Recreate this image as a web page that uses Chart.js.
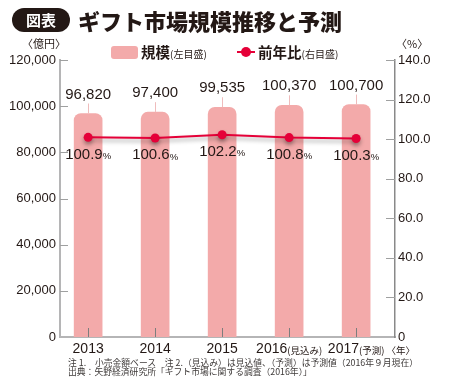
<!DOCTYPE html>
<html>
<head>
<meta charset="utf-8">
<script src="https://cdn.jsdelivr.net/npm/chart.js@4"></script>
<style>
body{margin:0;background:#fff;}
#wrap{position:relative;width:450px;height:392px;font-family:"Noto Sans CJK JP",sans-serif;color:#231815;overflow:hidden;}
canvas{position:absolute;left:0;top:0;}
.t{position:absolute;white-space:nowrap;}
.s{font-size:10px;}
.note{font-size:8.8px;line-height:11px;color:#3e3a39;}
</style>
</head>
<body>
<div id="wrap">
<canvas id="c" width="450" height="392"></canvas>
<div class="t" style="left:12px;top:8px;width:58px;height:24px;background:#231815;border-radius:12px;color:#fff;font-weight:bold;font-size:15px;line-height:24px;text-align:center;">図表</div>
<div class="t" style="left:78px;top:4px;font-size:22px;font-weight:900;line-height:32px;">ギフト市場規模推移と予測</div>
<div class="t" style="left:22px;top:36px;font-size:11px;line-height:14px;">〈億円〉</div>
<div class="t" style="left:396px;top:36px;font-size:11px;line-height:14px;">〈%〉</div>
<div class="t" style="left:111px;top:46px;width:27px;height:13px;background:#f3aaaa;border-radius:3px;"></div>
<div class="t" style="left:141px;top:43px;font-size:14.5px;font-weight:bold;line-height:18px;">規模<span class="s" style="font-weight:normal">(左目盛)</span></div>
<div class="t" style="left:237px;top:51px;width:18px;height:2px;background:#e50038;"></div>
<div class="t" style="left:241px;top:47px;width:10px;height:10px;border-radius:5px;background:#e50038;"></div>
<div class="t" style="left:258px;top:43px;font-size:14.5px;font-weight:bold;line-height:18px;">前年比<span class="s" style="font-weight:normal">(右目盛)</span></div>
<div class="t note" style="left:68px;top:357px;">注 1.　小売金額ベース　注 2.（見込み）は見込値、（予測）は予測値（2016年９月現在）</div>
<div class="t note" style="left:68px;top:366px;">出典：矢野経済研究所「ギフト市場に関する調査（2016年）」</div>
</div>
<script>
var years = ['2013', '2014', '2015', '2016', '2017'];
var yearNotes = ['', '', '', '(見込み)', '(予測)'];
var marketSize = [96820, 97400, 99535, 100370, 100700];
var yoyRate = [100.9, 100.6, 102.2, 100.8, 100.3];
var leftMax = 120000, leftStep = 20000;
var rightMax = 140, rightStep = 20;

var numFont = '"Liberation Sans", Arial, sans-serif';
var jpFont = '"Noto Sans CJK JP", sans-serif';

var deco = {
  id: 'deco',
  beforeDatasetDraw: function(chart, args) {
    if (args.index === 1) {
      var c = chart.ctx;
      c.save();
      c.shadowColor = 'rgba(0,0,0,0.35)';
      c.shadowBlur = 4;
      c.shadowOffsetY = 3;
    }
  },
  afterDatasetDraw: function(chart, args) {
    if (args.index === 1) chart.ctx.restore();
  },
  afterDraw: function(chart) {
    var c = chart.ctx, xs = chart.scales.x, yl = chart.scales.y, yr = chart.scales.y2, a = chart.chartArea;
    c.save();
    // tick marks inside
    c.lineWidth = 1;
    c.strokeStyle = '#9fa0a0';
    yl.ticks.forEach(function(t) {
      if (t.value === 0) return;
      var y = Math.round(yl.getPixelForValue(t.value)) + 0.5;
      c.beginPath(); c.moveTo(a.left, y); c.lineTo(a.left + 8, y); c.stroke();
    });
    yr.ticks.forEach(function(t) {
      if (t.value === 0) return;
      var y = Math.round(yr.getPixelForValue(t.value)) + 0.5;
      c.beginPath(); c.moveTo(a.right - 9, y); c.lineTo(a.right, y); c.stroke();
    });
    c.strokeStyle = '#7d7d7d';
    for (var i = 0; i < years.length; i++) {
      var px = Math.round(xs.getPixelForValue(i)) + 0.5;
      c.beginPath(); c.moveTo(px, a.bottom); c.lineTo(px, a.bottom - 9); c.stroke();
    }

    c.fillStyle = '#231815';
    c.textBaseline = 'middle';
    for (var i = 0; i < years.length; i++) {
      var px = xs.getPixelForValue(i);
      // bar value labels + leader
      var top = yl.getPixelForValue(marketSize[i]);
      c.strokeStyle = '#efbcbc';
      c.beginPath(); c.moveTo(Math.round(px) + 0.5, top - 10); c.lineTo(Math.round(px) + 0.5, top); c.stroke();
      c.font = '15px ' + numFont;
      c.textAlign = 'center';
      c.fillText(marketSize[i].toLocaleString('en-US'), px, top - 19);

      // percent labels
      var py = yr.getPixelForValue(yoyRate[i]) + 17;
      var main = yoyRate[i].toFixed(1);
      c.font = '15px ' + numFont;
      var w1 = c.measureText(main).width;
      c.font = '9.5px ' + numFont;
      var w2 = c.measureText('%').width;
      var sx = px - (w1 + w2) / 2;
      c.textAlign = 'left';
      c.font = '15px ' + numFont;
      c.fillText(main, sx, py);
      c.font = '9.5px ' + numFont;
      c.fillText('%', sx + w1, py + 2);

      // x labels
      c.font = '14px ' + numFont;
      var yw = c.measureText(years[i]).width;
      c.font = '9.5px ' + jpFont;
      var nw = yearNotes[i] ? c.measureText(yearNotes[i]).width : 0;
      var lx = px - (yw + nw) / 2;
      c.font = '14px ' + numFont;
      c.fillText(years[i], lx, 349);
      if (yearNotes[i]) {
        c.font = '9.5px ' + jpFont;
        c.fillText(yearNotes[i], lx + yw, 350);
      }
      if (i === years.length - 1) {
        c.font = '9.5px ' + jpFont;
        c.fillText('〈年〉', lx + yw + nw + 2, 350);
      }
    }
    c.restore();
  }
};

new Chart(document.getElementById('c'), {
  type: 'bar',
  data: {
    datasets: [{
      type: 'bar',
      label: '規模',
      data: years.map(function(y, i) { return { x: i, y: marketSize[i] }; }),
      yAxisID: 'y',
      backgroundColor: '#f3aaaa',
      barThickness: 28,
      borderRadius: { topLeft: 7, topRight: 7 },
      borderSkipped: 'bottom',
      order: 2
    }, {
      type: 'line',
      label: '前年比',
      data: years.map(function(y, i) { return { x: i, y: yoyRate[i] }; }),
      yAxisID: 'y2',
      borderColor: '#e50038',
      backgroundColor: '#e50038',
      borderWidth: 2,
      pointRadius: 4.5,
      pointBorderWidth: 0,
      order: 1
    }]
  },
  options: {
    responsive: false,
    animation: false,
    devicePixelRatio: 1,
    layout: { padding: { top: 60, bottom: 55, left: 0, right: 0 } },
    plugins: { legend: { display: false }, tooltip: { enabled: false } },
    scales: {
      x: {
        type: 'linear', min: -0.42, max: 4.58, offset: false,
        grid: { display: false, drawTicks: false },
        ticks: { display: false },
        border: { color: '#b5b5b6', width: 2 },
        afterFit: function(s) { s.height = 0; }
      },
      y: {
        position: 'left', min: 0, max: leftMax,
        grid: { display: false, drawTicks: false },
        border: { color: '#b5b5b6', width: 2 },
        ticks: {
          stepSize: leftStep, padding: 4, color: '#231815',
          font: { family: numFont, size: 13 },
          callback: function(v) { return v === 0 ? '0' : v.toLocaleString('en-US'); }
        },
        afterFit: function(s) { s.width = 60; }
      },
      y2: {
        position: 'right', min: 0, max: rightMax,
        grid: { display: false, drawTicks: false },
        border: { color: '#898989', width: 1.5 },
        ticks: {
          stepSize: rightStep, padding: 3, color: '#231815',
          font: { family: numFont, size: 13 },
          callback: function(v) { return v === 0 ? '0' : v.toFixed(1); }
        },
        afterFit: function(s) { s.width = 55; }
      }
    }
  },
  plugins: [deco]
});
</script>
</body>
</html>
